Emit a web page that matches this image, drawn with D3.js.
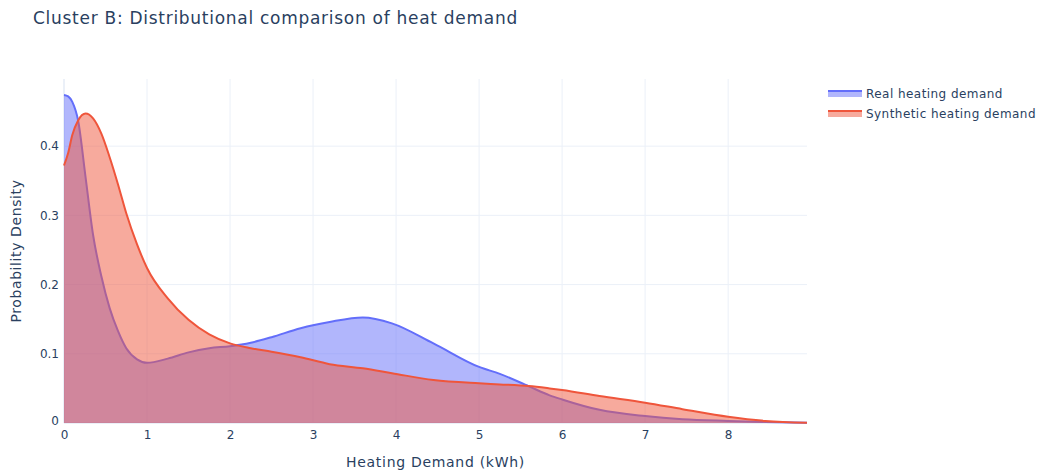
<!DOCTYPE html>
<html>
<head>
<meta charset="utf-8">
<script src="https://cdn.jsdelivr.net/npm/d3@7"></script>
<style>
  body { margin: 0; background: #fff; }
  text { font-family: "DejaVu Sans", verdana, sans-serif; fill: #2a3f5f; }
</style>
</head>
<body>
<div id="chart"></div>
<script>
const demandX = [0, 0.05, 0.1, 0.17, 0.26, 0.35, 0.45, 0.55, 0.65, 0.75, 0.88, 1.0, 1.25, 1.5, 1.75, 2.0, 2.25, 2.5, 2.85, 3.2, 3.6, 3.95, 4.45, 5.0, 5.25, 5.6, 5.85, 6.0, 6.45, 7.0, 7.45, 8.0, 8.45, 8.95];
const realDensity = [0.474, 0.472, 0.464, 0.437, 0.355, 0.272, 0.212, 0.166, 0.133, 0.108, 0.092, 0.087, 0.093, 0.102, 0.108, 0.111, 0.116, 0.124, 0.137, 0.146, 0.1525, 0.144, 0.115, 0.081, 0.071, 0.053, 0.04, 0.034, 0.019, 0.010, 0.0055, 0.003, 0.0015, 0.0005];
const synthDensity = [0.372, 0.39, 0.416, 0.437, 0.447, 0.44, 0.418, 0.384, 0.345, 0.303, 0.258, 0.224, 0.18, 0.149, 0.128, 0.115, 0.108, 0.103, 0.095, 0.085, 0.079, 0.072, 0.062, 0.0573, 0.0558, 0.0534, 0.050, 0.0477, 0.039, 0.0293, 0.020, 0.009, 0.003, 0.0005];
const xTicks = [0, 1, 2, 3, 4, 5, 6, 7, 8];
const yTicks = [0, 0.1, 0.2, 0.3, 0.4];
const seriesNames = ["Real heating demand", "Synthetic heating demand"];

const W = 1041, H = 472;
const margin = {top: 79, right: 234, bottom: 49, left: 64};
const width = W - margin.left - margin.right,
      height = H - margin.top - margin.bottom;

const blue = "#636efa", red = "#EF553B";
const grid = "#EBF0F8";

const svg = d3.select("#chart").append("svg")
    .attr("width", W).attr("height", H);

svg.append("text")
    .attr("x", 33).attr("y", 24)
    .style("font-size", "17px").style("letter-spacing", "0.72px")
    .text("Cluster B: Distributional comparison of heat demand");

const g = svg.append("g")
    .attr("transform", "translate(" + margin.left + "," + margin.top + ")");

const x = d3.scaleLinear().domain([0, 8.95]).range([0, width]);
const y = d3.scaleLinear().domain([0, 0.497]).range([height, 0]);

// gridlines
g.append("g").selectAll("line").data(xTicks.slice(1)).enter().append("line")
    .attr("x1", d => x(d)).attr("x2", d => x(d))
    .attr("y1", 0).attr("y2", height)
    .attr("stroke", grid).attr("stroke-width", 1);
g.append("g").selectAll("line").data(yTicks.slice(1)).enter().append("line")
    .attr("x1", 0).attr("x2", width)
    .attr("y1", d => y(d)).attr("y2", d => y(d))
    .attr("stroke", grid).attr("stroke-width", 1);
// zero lines
g.append("line").attr("x1", 0).attr("x2", width).attr("y1", y(0)).attr("y2", y(0))
    .attr("stroke", grid).attr("stroke-width", 2);
g.append("line").attr("x1", x(0)).attr("x2", x(0)).attr("y1", 0).attr("y2", height)
    .attr("stroke", grid).attr("stroke-width", 2);

// axes (labels only)
const xAxis = g.append("g")
    .attr("transform", "translate(0," + height + ")")
    .call(d3.axisBottom(x).tickValues(xTicks).tickSize(0).tickPadding(7).tickFormat(d3.format("d")));
const yAxis = g.append("g")
    .call(d3.axisLeft(y).tickValues(yTicks).tickSize(0).tickPadding(5).tickFormat(d => d === 0 ? "0" : d3.format(".1f")(d)));
[xAxis, yAxis].forEach(a => {
  a.select(".domain").remove();
  a.selectAll("text").style("font-size", "12px").attr("fill", "#2a3f5f")
    .style("font-family", '"DejaVu Sans", verdana, sans-serif');
});
yAxis.selectAll(".tick").filter(d => d === 0).select("text").attr("dy", "0.1em");

// axis titles
svg.append("text")
    .attr("x", margin.left + width / 2).attr("y", 467)
    .attr("text-anchor", "middle").style("font-size", "14px").style("letter-spacing", "0.7px")
    .text("Heating Demand (kWh)");
svg.append("text")
    .attr("transform", "translate(21," + (margin.top + height / 2) + ") rotate(-90)")
    .attr("text-anchor", "middle").style("font-size", "14px").style("letter-spacing", "0.6px")
    .text("Probability Density");

const area = d3.area().x((d, i) => x(demandX[i])).y0(y(0)).y1(d => y(d)).curve(d3.curveMonotoneX);
const line = d3.line().x((d, i) => x(demandX[i])).y(d => y(d)).curve(d3.curveMonotoneX);

[[realDensity, blue], [synthDensity, red]].forEach(([vals, c]) => {
  g.append("path").datum(vals).attr("d", area)
      .attr("fill", c).attr("fill-opacity", 0.5);
  g.append("path").datum(vals).attr("d", line)
      .attr("fill", "none").attr("stroke", c).attr("stroke-width", 2);
});

// legend
const legend = svg.append("g");
seriesNames.forEach((name, i) => {
  const cy = 94 + i * 20;
  const c = i === 0 ? blue : red;
  legend.append("rect").attr("x", 828).attr("y", cy - 4).attr("width", 34).attr("height", 7)
      .attr("fill", c).attr("fill-opacity", 0.5);
  legend.append("line").attr("x1", 828).attr("x2", 862).attr("y1", cy - 3).attr("y2", cy - 3)
      .attr("stroke", c).attr("stroke-width", 2);
  legend.append("text").attr("x", 866).attr("y", cy + 4)
      .style("font-size", "12px").style("letter-spacing", "0.45px").text(name);
});
</script>
</body>
</html>
